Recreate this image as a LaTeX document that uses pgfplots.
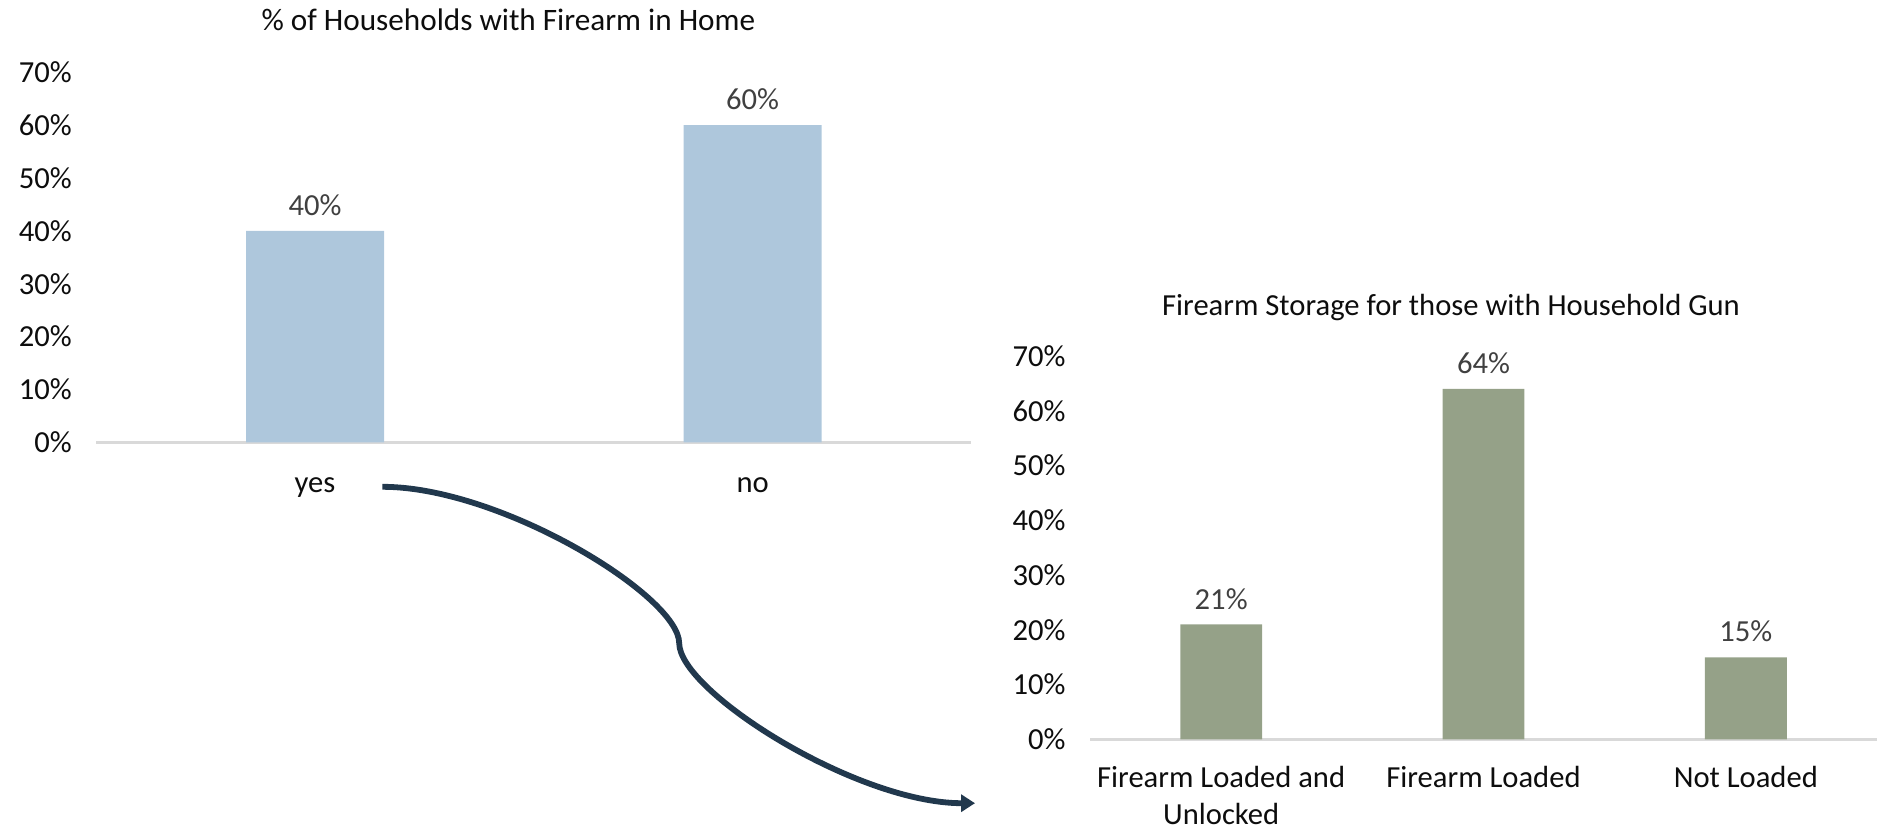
\documentclass[border=0pt]{standalone}
\usepackage{pgfplots}
\pgfplotsset{compat=1.18}
\usepackage{fontspec}
\setmainfont{Carlito}
\usetikzlibrary{arrows.meta}
\definecolor{lblue}{RGB}{174,199,220}
\definecolor{sage}{RGB}{149,161,136}
\definecolor{navy}{RGB}{33,56,77}
\definecolor{axgray}{RGB}{217,217,217}
\definecolor{dlab}{RGB}{64,64,64}
\definecolor{txt}{RGB}{13,13,13}
\pgfplotsset{
  mybars/.style={
    scale only axis,
    ybar,
    ymin=0, ymax=70,
    ytick={0,10,...,70},
    yticklabel={\pgfmathprintnumber{\tick}\%},
    /pgf/number format/assume math mode=true,
    axis x line*=bottom, axis y line*=left,
    y axis line style={draw=none},
    x axis line style={axgray, line width=1.4bp, -},
    tick style={draw=none},
    major tick length=0pt,
    xtick=data,
    yticklabel style={text=txt, xshift=-8.7bp},
    ticklabel style={font=\fontsize{15.3bp}{18.6bp}\selectfont},
    nodes near coords={\pgfmathprintnumber{\pgfplotspointmeta}\%},
    every node near coord/.append style={text=dlab, font=\fontsize{15.3bp}{19.2bp}\selectfont, yshift=4bp},
    clip=false,
  }
}
\begin{document}
\begin{tikzpicture}
\path[use as bounding box] (0bp,0bp) rectangle (942.5bp,-415.5bp);
% left chart
\begin{axis}[mybars,
  at={(48.1bp,-221.2bp)}, anchor=south west,
  width=437.6bp, height=185.1bp,
  xmin=-0.5, xmax=1.5,
  bar width=69bp,
  xticklabels={yes,no},
  xticklabel style={text=txt, yshift=-14bp},
]
\addplot[fill=lblue, draw=none] coordinates {(0,40) (1,60)};
\end{axis}
% right chart
\begin{axis}[mybars,
  at={(545bp,-369.7bp)}, anchor=south west,
  width=393.5bp, height=191.7bp,
  xmin=-0.5, xmax=2.5,
  bar width=40.9bp,
  xticklabels={{Firearm Loaded and\\Unlocked},{Firearm Loaded},{Not Loaded}},
  xticklabel style={text=txt, align=center, yshift=-9.8bp},
]
\addplot[fill=sage, draw=none] coordinates {(0,21) (1,64) (2,15)};
\end{axis}
% titles
\node[anchor=base, text=txt, font=\fontsize{15.6bp}{19.2bp}\selectfont] at (254.2bp,-15bp) {\% of Households with Firearm in Home};
\node[anchor=base, text=txt, font=\fontsize{15.3bp}{19.2bp}\selectfont] at (725.5bp,-157.5bp) {Firearm Storage for those with Household Gun};
% connector arrow
\draw[navy, line width=2.9bp, -{Triangle[length=7bp,width=8.5bp]}]
  (191.2bp,-243.4bp) .. controls (250.6bp,-243.4bp) and (339.6bp,-298.1bp) ..
  (339.6bp,-321.6bp) .. controls (339.6bp,-345.6bp) and (428bp,-401.6bp) ..
  (487.5bp,-401.6bp);
\end{tikzpicture}
\end{document}
